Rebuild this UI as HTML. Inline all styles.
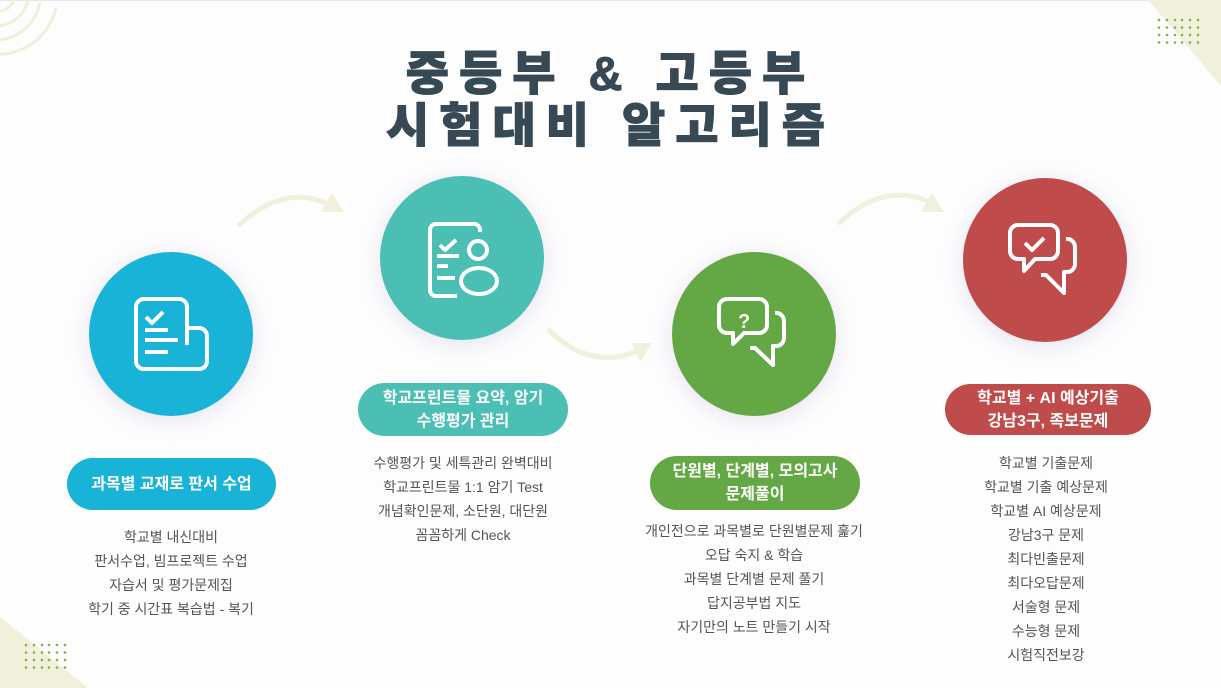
<!DOCTYPE html>
<html><head><meta charset="utf-8"><style>
html,body{margin:0;padding:0;}
body{width:1221px;height:688px;background:#fdfdfe;position:relative;overflow:hidden;font-family:"Liberation Sans","Noto Sans CJK KR",sans-serif;}
.t{position:absolute;left:0;width:1221px;text-align:center;color:#374955;font-weight:900;font-size:47px;letter-spacing:10px;line-height:52px;-webkit-text-stroke:1px #374955;}
.pill{position:absolute;border-radius:30px;color:#fff;font-weight:bold;font-size:16px;text-align:center;display:flex;align-items:center;justify-content:center;line-height:23px;}
.list{position:absolute;text-align:center;color:#555;font-size:14px;line-height:24px;width:300px;}
</style></head><body>
<svg width="1221" height="688" style="position:absolute;left:0;top:0">
<defs><filter id="sh" x="-50%" y="-50%" width="200%" height="200%"><feGaussianBlur stdDeviation="10"/></filter></defs>
<line x1="0" y1="0.5" x2="1221" y2="0.5" stroke="#e6e6ee"/>
<g fill="none" stroke="#f0efdc" stroke-width="3">
<path d="M-10,54 A60,60 0 0 0 56,8"/>
<path d="M-10,40 A46,46 0 0 0 40,2"/>
<path d="M-10,25 A32,32 0 0 0 28,0"/>
<path d="M-10,10 A18,18 0 0 0 14,0"/>
</g>
<polygon points="1148,0 1221,0 1221,86" fill="#f1f0dc"/>
<polygon points="0,617 88,688 0,688" fill="#f1f0dc"/>
<g fill="#7cb342">
<g id="dr"><circle cx="1159" cy="20" r="1.3"/><circle cx="1167" cy="20" r="1.3"/><circle cx="1175" cy="20" r="1.3"/><circle cx="1182" cy="20" r="1.3"/><circle cx="1190" cy="20" r="1.3"/><circle cx="1198" cy="20" r="1.3"/></g>
<use href="#dr" y="7.5"/><use href="#dr" y="15"/><use href="#dr" y="22.5"/>
<use href="#dr" x="-1133" y="625"/><use href="#dr" x="-1133" y="632.5"/><use href="#dr" x="-1133" y="640"/><use href="#dr" x="-1133" y="647.5"/>
</g>
<g fill="none" stroke="#f1f0dc" stroke-width="5">
<path d="M238,226 Q285,182 330,205"/>
<path d="M548,329 Q590,372 640,350"/>
<path d="M838,224 Q885,180 932,203"/>
</g>
<g fill="#f1f0dc">
<polygon points="321,212 344,212 332,193"/>
<polygon points="632,343 652,343 640,362"/>
<polygon points="921,212 944,212 932,193"/>
</g>
<g fill="#d8d8e8" opacity="0.6" filter="url(#sh)">
<circle cx="171" cy="338" r="84"/><circle cx="462" cy="262" r="84"/><circle cx="754" cy="338" r="84"/><circle cx="1045" cy="264" r="84"/>
</g>
<circle cx="171" cy="334" r="82" fill="#1ab3d8"/>
<circle cx="462" cy="258" r="82" fill="#4bbfb4"/>
<circle cx="754" cy="334" r="82" fill="#63a844"/>
<circle cx="1045" cy="260" r="82" fill="#c04b4b"/>
<g fill="none" stroke="#fff" stroke-width="4" stroke-linejoin="round">
<path d="M187,345 V307 a8,8 0 0 0 -8,-8 H144 a8,8 0 0 0 -8,8 V361 a8,8 0 0 0 8,8 H199 a8,8 0 0 0 8,-8 V336 a8,8 0 0 0 -8,-8 H187"/>
<path d="M146,317 l6,6 l11,-11"/>
<path d="M145,330 H168 M145,340 H178 M145,352 H168"/>
<path d="M480,232 V230 a6,6 0 0 0 -6,-6 H436 a6,6 0 0 0 -6,6 V290 a6,6 0 0 0 6,6 H457"/>
<path d="M440,245 l5,5 l11,-10"/>
<path d="M437,256 H459 M437,266 H448 M437,278 H455"/>
<circle cx="478" cy="250" r="9"/>
<ellipse cx="479" cy="281" rx="18" ry="13"/>
<path d="M727,299 H759 a8,8 0 0 1 8,8 V325 a8,8 0 0 1 -8,8 H744 L733,344 V333 H727 a8,8 0 0 1 -8,-8 V307 a8,8 0 0 1 8,-8 Z"/>
<path d="M775,313 a8,8 0 0 1 9,8 V338 a8,8 0 0 1 -8,8 H773 V365 L755,348 H750"/>
<path d="M1018,225 H1050 a8,8 0 0 1 8,8 V251 a8,8 0 0 1 -8,8 H1035 L1024,271 V259 H1018 a8,8 0 0 1 -8,-8 V233 a8,8 0 0 1 8,-8 Z"/>
<path d="M1066,239 a8,8 0 0 1 9,8 V264 a8,8 0 0 1 -8,8 H1064 V293 L1046,275 H1041"/>
<path d="M1025,243 l7,7 l12,-12"/>
</g>
<text x="738" y="328" fill="#fff" font-family="Liberation Sans" font-weight="bold" font-size="20">?</text>
</svg>
<div class="t" style="top:48px">중등부 &amp; 고등부</div>
<div class="t" style="top:100px">시험대비 알고리즘</div>

<div class="pill" style="left:67px;top:458px;width:209px;height:52px;background:#1ab3d8">과목별 교재로 판서 수업</div>
<div class="pill" style="left:358px;top:383px;width:210px;height:53px;background:#4bbfb4">학교프린트물 요약, 암기<br>수행평가 관리</div>
<div class="pill" style="left:650px;top:456px;width:210px;height:54px;background:#63a844">단원별, 단계별, 모의고사<br>문제풀이</div>
<div class="pill" style="left:945px;top:384px;width:206px;height:51px;background:#c04b4b">학교별 + AI 예상기출<br>강남3구, 족보문제</div>

<div class="list" style="left:21px;top:525px">학교별 내신대비<br>판서수업, 빔프로젝트 수업<br>자습서 및 평가문제집<br>학기 중 시간표 복습법 - 복기</div>
<div class="list" style="left:313px;top:451px">수행평가 및 세특관리 완벽대비<br>학교프린트물 1:1 암기 Test<br>개념확인문제, 소단원, 대단원<br>꼼꼼하게 Check</div>
<div class="list" style="left:604px;top:519px">개인전으로 과목별로 단원별문제 훑기<br>오답 숙지 &amp; 학습<br>과목별 단계별 문제 풀기<br>답지공부법 지도<br>자기만의 노트 만들기 시작</div>
<div class="list" style="left:896px;top:451px">학교별 기출문제<br>학교별 기출 예상문제<br>학교별 AI 예상문제<br>강남3구 문제<br>최다빈출문제<br>최다오답문제<br>서술형 문제<br>수능형 문제<br>시험직전보강</div>
</body></html>
